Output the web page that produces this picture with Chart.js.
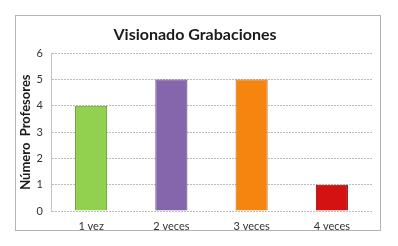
<!DOCTYPE html>
<html>
<head>
<meta charset="utf-8">
<script src="https://cdn.jsdelivr.net/npm/chart.js@4"></script>
<style>
  html, body { margin: 0; padding: 0; background: #fff; }
  #wrap { width: 398px; height: 246px; }
</style>
</head>
<body>
<div id="wrap"><canvas id="visionadoChart"></canvas></div>
<script>
// Visionado Grabaciones data
const categories = ["1 vez", "2 veces", "3 veces", "4 veces"];
const profesores = [4, 5, 5, 1];
const yTicks = [0, 1, 2, 3, 4, 5, 6];
const barColors = ["#92d050", "#8566ac", "#f5850f", "#d41212"];
const barBorders = ["#5e8f2a", "#4f3a70", "#b85e08", "#8a0000"];

// thin frame round the whole chart
const frame = {
    id: 'frame',
    beforeDraw(chart) {
        const ctx = chart.ctx;
        ctx.save();
        ctx.fillStyle = '#fff';
        ctx.fillRect(0, 0, chart.width, chart.height);
        ctx.strokeStyle = '#b4b4b4';
        ctx.lineWidth = 1;
        ctx.strokeRect(15.5, 15.5, 365, 215);
        ctx.restore();
    }
};

new Chart(document.getElementById('visionadoChart'), {
    type: 'bar',
    data: {
        labels: categories,
        datasets: [{
            label: 'Número Profesores',
            data: profesores,
            backgroundColor: barColors,
            borderColor: barBorders,
            borderWidth: 1,
            categoryPercentage: 0.8,
            barPercentage: 0.5
        }]
    },
    options: {
        responsive: true,
        maintainAspectRatio: false,
        animation: false,
        layout: { padding: { left: 18, right: 26, top: 15, bottom: 12 } },
        plugins: {
            legend: { display: false },
            tooltip: { enabled: false },
            title: {
                display: true,
                text: 'Visionado Grabaciones',
                color: '#1a1a1a',
                font: { family: 'Lato', size: 16, weight: 'bold' },
                padding: { top: 10, bottom: 9 }
            }
        },
        scales: {
            x: {
                grid: { display: false, drawTicks: false },
                border: { display: false },
                ticks: { color: '#333', font: { family: 'Lato', size: 11 }, padding: 9 },
                afterFit: s => { s.height = 23; }
            },
            y: {
                min: 0,
                max: 6,
                afterBuildTicks: s => { s.ticks = yTicks.map(v => ({ value: v })); },
                grid: { color: '#bcbcbc', tickLength: 0 },
                border: { display: true, color: '#c4c4c4', dash: [2, 1] },
                ticks: { color: '#333', font: { family: 'Lato', size: 11 }, padding: 8 },
                title: {
                    display: true,
                    text: 'Número  Profesores',
                    color: '#1a1a1a',
                    font: { family: 'Lato', size: 13, weight: 'bold' },
                    padding: 0
                },
                afterFit: s => { s.width = 33; }
            }
        }
    },
    plugins: [frame]
});
</script>
</body>
</html>
